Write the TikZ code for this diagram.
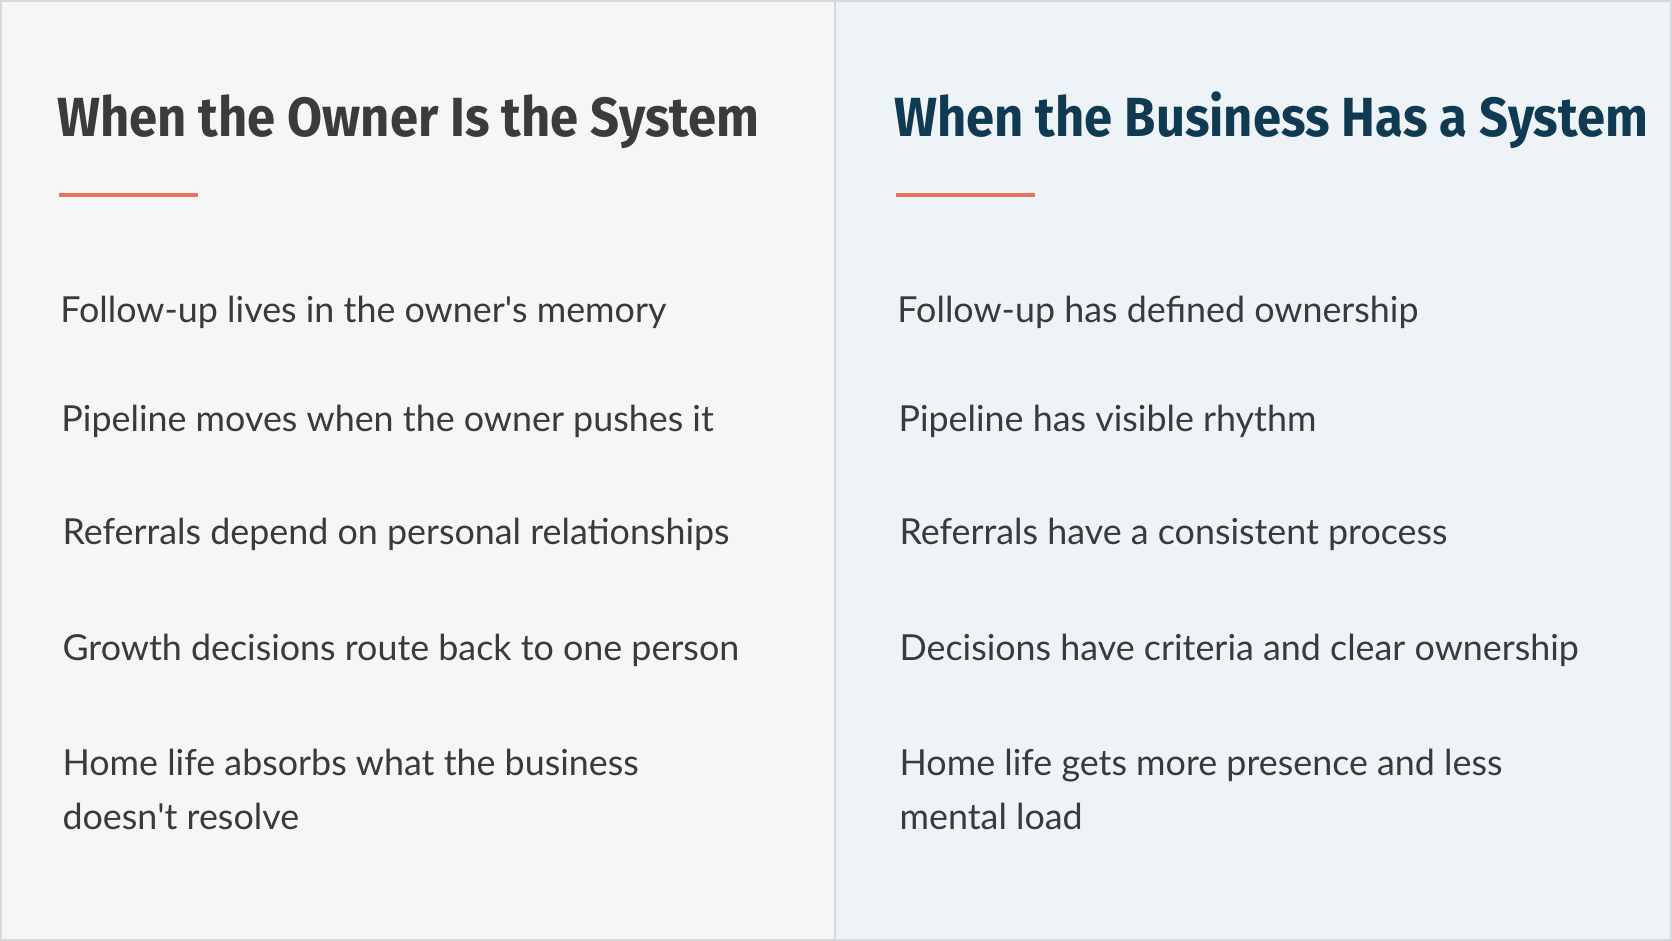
\documentclass[tikz,border=0pt]{standalone}
\usepackage{fontspec}
\setmainfont{Lato}
\newfontfamily\titlefont[FakeStretch=0.92]{Fira Sans}
\definecolor{leftbg}{HTML}{F6F6F6}
\definecolor{rightbg}{HTML}{EEF3F7}
\definecolor{framegray}{HTML}{D6D8DA}
\definecolor{ownergray}{HTML}{3B3B3B}
\definecolor{systemblue}{HTML}{0F3A52}
\definecolor{accent}{HTML}{E8735A}
\definecolor{bodytext}{HTML}{3A3A3A}
\tikzset{
  heading/.style={anchor=base west, inner sep=0pt, font=\titlefont\bfseries\fontsize{15.7}{18}\selectfont},
  item/.style={anchor=base west, inner sep=0pt, text=bodytext, font=\fontsize{10.2}{15.3}\selectfont, align=left},
  rule/.style={accent, line width=1.3pt}
}
\begin{document}
\begin{tikzpicture}[x=0.010663cm, y=-0.010663cm]
    % Panels (1568 x 882 units)
    \useasboundingbox (0,0) rectangle (1568,882);
    \fill[leftbg] (0,0) rectangle (783,882);
    \fill[rightbg] (783,0) rectangle (1568,882);
    \draw[framegray, line width=0.6pt] (783,0) -- (783,882);
    \draw[framegray, line width=0.8pt] (0.5,0.5) rectangle (1567.5,881.5);

    % Headings
    \node[heading, text=ownergray] (ownerhead) at (53,128) {When the Owner Is the System};
    \node[heading, text=systemblue] (systemhead) at (838,128) {When the Business Has a System};
    \draw[rule] (55,183) -- (186,183);
    \draw[rule] (840,183) -- (971,183);

    % Left column
    \node[item] (owner1) at (56,302) {Follow-up lives in the owner\textquotesingle s memory};
    \node[item] (owner2) at (57,405) {Pipeline moves when the owner pushes it};
    \node[item] (owner3) at (58,511) {Referrals depend on personal relationships};
    \node[item] (owner4) at (58,619) {Growth decisions route back to one person};
    \node[item] (owner5) at (58,778) {Home life absorbs what the business\\doesn\textquotesingle t resolve};

    % Right column
    \node[item] (system1) at (841,302) {Follow-up has defined ownership};
    \node[item] (system2) at (842,405) {Pipeline has visible rhythm};
    \node[item] (system3) at (843,511) {Referrals have a consistent process};
    \node[item] (system4) at (843,619) {Decisions have criteria and clear ownership};
    \node[item] (system5) at (843,778) {Home life gets more presence and less\\mental load};
\end{tikzpicture}
\end{document}
